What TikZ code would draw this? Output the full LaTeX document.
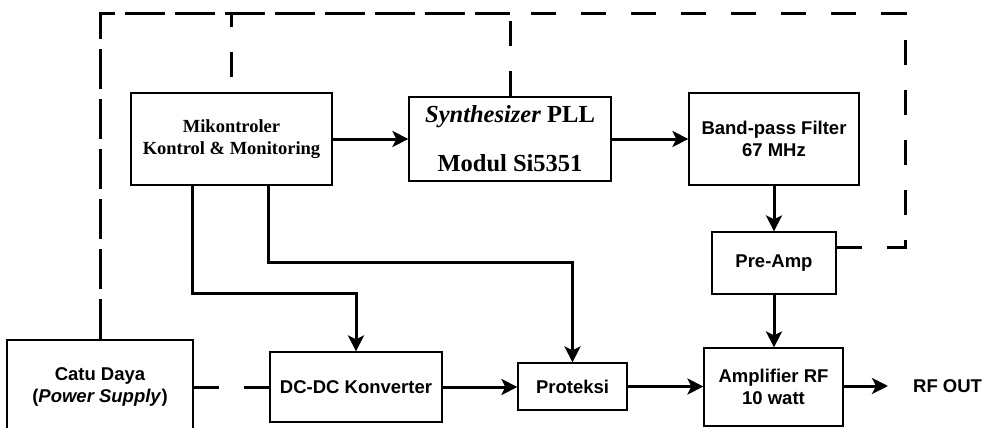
\documentclass[tikz,border=0pt]{standalone}
\usepackage{fontspec}
\setmainfont{Liberation Serif}
\newfontfamily\arialfont{Liberation Sans}
\usetikzlibrary{arrows.meta,calc}

\tikzset{
  blk/.style={draw=black, line width=1.2pt, rectangle, inner sep=0pt, align=center},
  serifbf/.style={font=\fontsize{18.5}{22}\selectfont\bfseries},
  sansbf/.style={font=\arialfont\fontsize{18.5}{22}\selectfont\bfseries},
  flow/.style={line width=3pt, -{Stealth[length=16pt,width=16pt,inset=4pt]}},
  ctrlA/.style={line width=3pt, dash pattern=on 40pt off 10pt},
  ctrlB/.style={line width=3pt, dash pattern=on 25pt off 25pt},
}

\begin{document}
\begin{tikzpicture}[x=1pt, y=-1pt]
  \useasboundingbox (0,0) rectangle (983,428);
  \fill[white] (0,0) rectangle (983,428);

  % functional blocks
  \node[blk, serifbf, minimum width=201pt, minimum height=92pt] (mcu) at (231.5,139)
    {Mikontroler\\Kontrol \& Monitoring};
  \node[blk, minimum width=202pt, minimum height=84pt,
        font=\fontsize{24.5}{49}\selectfont\bfseries] (synth) at (510,139)
    {\textit{Synthesizer} PLL\\Modul Si5351};
  \node[blk, sansbf, minimum width=170pt, minimum height=92pt] (bpf) at (774,139)
    {Band-pass Filter\\67 MHz};
  \node[blk, sansbf, minimum width=124pt, minimum height=62pt] (pre) at (774,263)
    {Pre-Amp};
  \node[blk, sansbf, minimum width=139pt, minimum height=78pt] (amp) at (773.5,387)
    {Amplifier RF\\10 watt};
  \node[blk, sansbf, minimum width=109pt, minimum height=47pt] (prot) at (572.5,386.5)
    {Proteksi};
  \node[blk, sansbf, minimum width=172pt, minimum height=70pt] (dcdc) at (356,387)
    {DC-DC Konverter};
  \node[blk, sansbf, minimum width=186pt, minimum height=94pt] (psu) at (100,387)
    {Catu Daya\\(\textit{Power Supply})};
  \node[sansbf, anchor=west, inner sep=0pt] (rfout) at (913,386) {RF OUT};

  % corner points of the control bus
  \coordinate (tm) at (510,14);
  \coordinate (tr) at (905,14);
  \coordinate (out) at (888,386);

  % signal path
  \draw[flow] (mcu.east) -- (synth.west);
  \draw[flow] (synth.east) -- (bpf.west);
  \draw[flow] (bpf.south) -- (pre.north);
  \draw[flow] (pre.south) -- (pre.south |- amp.north);
  \draw[flow] (dcdc.east) -- (dcdc.east -| prot.west);
  \draw[flow] (prot.east) -- (prot.east -| amp.west);
  \draw[flow] (amp.east |- out) -- (out);

  % control lines from the microcontroller
  \draw[flow] ([xshift=62pt]mcu.south west) -- ++(0,108) -| (dcdc.north);
  \draw[flow] ([xshift=138pt]mcu.south west) -- ++(0,77) -| (prot.north);

  % supply / control bus (dashed)
  \draw[ctrlA] (psu.north) |- (tm);
  \draw[ctrlB] (synth.north) -- (synth.north |- tm);
  \draw[ctrlB, dash phase=35pt] (mcu.north) -- (mcu.north |- tm);
  \draw[ctrlB] ([yshift=16pt]pre.east) -| (tr) -- (tm);
  \draw[ctrlB] (psu.east) -- (dcdc.west);
\end{tikzpicture}
\end{document}
